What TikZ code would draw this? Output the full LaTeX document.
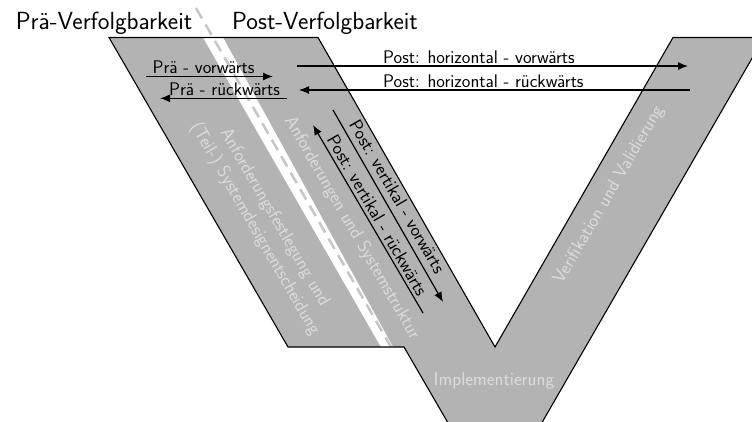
\documentclass[tikz,border=0pt]{standalone}
\usepackage{fontspec}
\usetikzlibrary{arrows.meta}
\definecolor{vgray}{HTML}{B3B3B3}
\definecolor{lgray}{HTML}{DCDCDC}
\definecolor{dgray}{HTML}{C6C6C6}
\begin{document}
\begin{tikzpicture}[x=1pt,y=-1pt,
  arr/.style={line width=1.2pt,-{Latex[length=10pt,width=8pt]}},
  lbl/.style={font=\sffamily\fontsize{18.3}{22}\selectfont,inner sep=0pt,anchor=base},
  faint/.style={font=\sffamily\fontsize{18.5}{22.5}\selectfont,text=lgray,inner sep=0pt},
  ttl/.style={font=\sffamily\fontsize{24.8}{29}\selectfont,inner sep=0pt,anchor=base}]
\useasboundingbox (0,0) rectangle (752,421);
\clip (0,0) rectangle (752,421);
% V shape corners
\coordinate (A) at (109,37.5);
\coordinate (B) at (318,37.5);
\coordinate (C) at (495,347);
\coordinate (D) at (673,37.5);
\coordinate (E) at (764,37.5);
\coordinate (F) at (495,504);
\coordinate (G) at (404,347);
\coordinate (H) at (288,347);
\fill[vgray] (A) -- (B) -- (C) -- (D) -- (E) -- (F) -- (G) -- (H) -- cycle;
% white separating strip
\coordinate (S1) at (203,37.5);
\coordinate (S2) at (223,37.5);
\coordinate (S3) at (393,347);
\coordinate (S4) at (381,347);
\fill[white] (S1) -- (S2) -- (S3) -- (S4) -- cycle;
\coordinate (L1) at (196,8);
\coordinate (L2) at (391,347);
\draw[dgray,line width=2.5pt,dash pattern=on 12pt off 7pt] (L1) -- (L2);
\draw[line width=1.1pt,line join=miter] (A) -- (B) -- (C) -- (D) -- (E) -- (F) -- (G) -- (H) -- cycle;
% titles
\node[ttl] (t1) at (104,29) {Prä-Verfolgbarkeit};
\node[ttl] (t2) at (325,29) {Post-Verfolgbarkeit};
% Prä arrows
\coordinate (pv1) at (146,76.5);
\coordinate (pv2) at (273,76.5);
\draw[arr] (pv1) -- (pv2);
\node[lbl] (tpv) at (203.5,73) {Prä - vorwärts};
\coordinate (pr1) at (287,98.3);
\coordinate (pr2) at (160,98.3);
\draw[arr] (pr1) -- (pr2);
\node[lbl] (tpr) at (224.5,95.5) {Prä - rückwärts};
% Post horizontal
\coordinate (hv1) at (297,66);
\coordinate (hv2) at (688,66);
\draw[arr] (hv1) -- (hv2);
\node[lbl,anchor=base west] (thv) at (383,63) {Post: horizontal - vorwärts};
\coordinate (hr1) at (690,90);
\coordinate (hr2) at (299,90);
\draw[arr] (hr1) -- (hr2);
\node[lbl,anchor=base west] (thr) at (383,87) {Post: horizontal - rückwärts};
% Post vertical
\coordinate (vv1) at (333,110);
\coordinate (vv2) at (443,302);
\draw[arr] (vv1) -- (vv2);
\node[lbl,anchor=center,rotate=-60] (tvv) at (397.5,196.5) {Post: vertikal - vorwärts};
\coordinate (vr1) at (423,313);
\coordinate (vr2) at (313,125);
\draw[arr] (vr1) -- (vr2);
\node[lbl,anchor=center,rotate=-60] (tvr) at (377.5,215.3) {Post: vertikal - rückwärts};
% faint phase labels
\node[faint,rotate=-60,align=center] (ph1) at (264.5,223.5) {Anforderungsfestlegung und\\(Teil-) Systemdesignentscheidung};
\node[faint,rotate=-60] (ph2) at (352,228) {Anforderungen und Systemstruktur};
\node[faint,rotate=60] (ph3) at (609,195) {Verifikation und Validierung};
\node[faint] (ph4) at (494,381) {Implementierung};
\end{tikzpicture}
\end{document}
